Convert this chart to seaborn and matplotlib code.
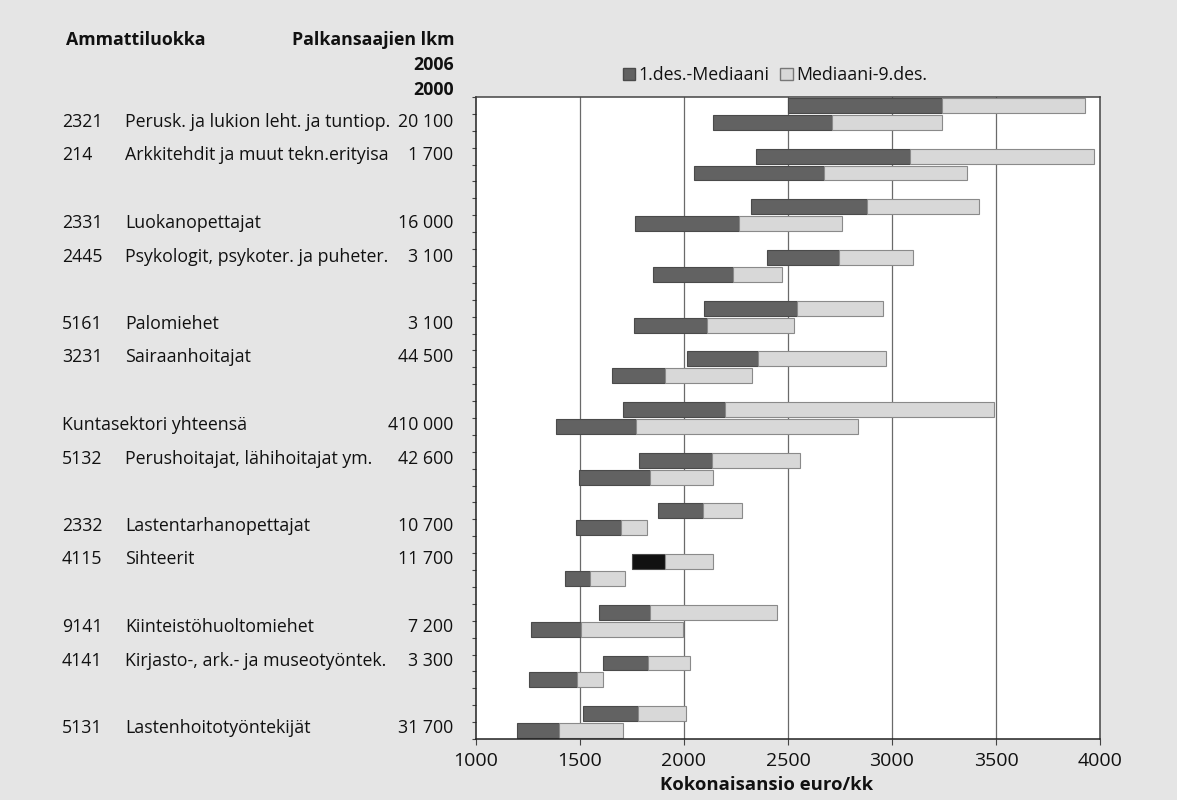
import numpy as np
import pandas as pd
import seaborn as sns
import matplotlib.pyplot as plt
from matplotlib.patches import Patch

# Ammattiluokat (ylhäältä alas)
codes = ["2321", "214", "2331", "2445", "5161", "3231", "", "5132",
         "2332", "4115", "9141", "4141", "5131"]
names = ["Perusk. ja lukion leht. ja tuntiop.", "Arkkitehdit ja muut tekn.erityisa",
         "Luokanopettajat", "Psykologit, psykoter. ja puheter.", "Palomiehet",
         "Sairaanhoitajat", "Kuntasektori yhteensä", "Perushoitajat, lähihoitajat ym.",
         "Lastentarhanopettajat", "Sihteerit", "Kiinteistöhuoltomiehet",
         "Kirjasto-, ark.- ja museotyöntek.", "Lastenhoitotyöntekijät"]
counts = ["20 100", "1 700", "16 000", "3 100", "3 100", "44 500", "410 000",
          "42 600", "10 700", "11 700", "7 200", "3 300", "31 700"]

# 1. desiili, mediaani, 9. desiili (euro/kk)
d1_2006 = [2500, 2345, 2320, 2400, 2095, 2015, 1705, 1785, 1875, 1750, 1590, 1610, 1515]
med_2006 = [3240, 3085, 2880, 2745, 2545, 2355, 2195, 2135, 2090, 1910, 1835, 1825, 1780]
d9_2006 = [3930, 3970, 3420, 3100, 2955, 2970, 3490, 2560, 2280, 2140, 2445, 2030, 2010]
d1_2000 = [2140, 2050, 1765, 1850, 1760, 1655, 1385, 1495, 1480, 1430, 1265, 1255, 1195]
med_2000 = [2710, 2675, 2265, 2235, 2110, 1910, 1770, 1835, 1695, 1550, 1505, 1485, 1400]
d9_2000 = [3240, 3360, 2760, 2470, 2530, 2325, 2835, 2140, 1820, 1715, 1995, 1610, 1705]

years = [2006, 2000]
black_bar = ("4115", 2006)   # tämä palkki on mustana alkuperäisessä

rows = []
for i, c in enumerate(codes):
    rows.append(dict(code=c, year=2006, pos=3 * i, d1=d1_2006[i], med=med_2006[i], d9=d9_2006[i]))
    rows.append(dict(code=c, year=2000, pos=3 * i + 1, d1=d1_2000[i], med=med_2000[i], d9=d9_2000[i]))
df = pd.DataFrame(rows).sort_values("pos").reset_index(drop=True)
df["low"] = df["med"] - df["d1"]
df["high"] = df["d9"] - df["med"]

sns.set_style("white")
plt.rcParams["font.family"] = ["Open Sans", "DejaVu Sans"]
plt.rcParams["text.color"] = "#111111"
plt.rcParams["xtick.color"] = "#111111"
plt.rcParams["axes.labelcolor"] = "#111111"

bg = "#e5e5e5"
dark = "#626262"
light = "#d8d8d8"

W, H = 1177, 800
fig = plt.figure(figsize=(W / 100, H / 100), dpi=100, facecolor=bg)
ax = fig.add_axes([476 / W, 1 - 739 / H, (1100 - 476) / W, (739 - 97) / H])
ax.set_facecolor("white")

for x in [1500, 2000, 2500, 3000, 3500]:
    ax.axvline(x, color="#6a6a6a", lw=0.9, zorder=0)

sns.barplot(data=df, x="low", y="pos", orient="y", native_scale=True,
            left=df["d1"].to_numpy(), width=0.88, color=dark,
            edgecolor="#4a4a4a", linewidth=0.8, errorbar=None, ax=ax, zorder=2)
sns.barplot(data=df, x="high", y="pos", orient="y", native_scale=True,
            left=df["med"].to_numpy(), width=0.88, color=light,
            edgecolor="#8a8a8a", linewidth=0.8, errorbar=None, ax=ax, zorder=2)

k = df.index[(df["code"] == black_bar[0]) & (df["year"] == black_bar[1])][0]
ax.containers[0][k].set_facecolor("#111111")

ax.set_xlim(1000, 4000)
ax.set_ylim(3 * len(codes) - 1.5, -0.5)
ax.set_xticks([1000, 1500, 2000, 2500, 3000, 3500, 4000])
ax.set_yticks(np.arange(-0.5, 3 * len(codes) - 1, 1.0))
ax.set_yticklabels([])
ax.tick_params(axis="y", left=True, length=3, width=0.8, color="#444444")
ax.tick_params(axis="x", bottom=True, length=4, width=0.8, color="#444444",
               labelsize=14, pad=5)
ax.set_ylabel("")
ax.set_xlabel("Kokonaisansio euro/kk", fontsize=13.3, fontweight="bold", labelpad=0)
ax.xaxis.set_label_coords(0.465, -0.058)
for s in ax.spines.values():
    s.set_visible(True)
    s.set_color("#444444")
    s.set_linewidth(1.1)
ax.spines["left"].set_color("#222222")
ax.spines["bottom"].set_color("#222222")

# vasemman puolen taulukko
def fy(py):
    return 1 - py / H

fs = 12.8
fig.text(66 / W, fy(40), "Ammattiluokka", fontsize=fs, fontweight="bold", va="center")
fig.text(454 / W, fy(40), "Palkansaajien lkm", fontsize=fs, fontweight="bold", va="center", ha="right")
fig.text(454 / W, fy(65), str(years[0]), fontsize=fs, fontweight="bold", va="center", ha="right")
fig.text(454 / W, fy(90), str(years[1]), fontsize=fs, fontweight="bold", va="center", ha="right")
for i in range(len(codes)):
    py = 122 + (i // 2) * 101 + (i % 2) * 33.5
    if codes[i]:
        fig.text(62 / W, fy(py), codes[i], fontsize=fs, va="center")
        fig.text(125 / W, fy(py), names[i], fontsize=fs, va="center")
    else:
        fig.text(62 / W, fy(py), names[i], fontsize=fs, va="center")
    fig.text(453 / W, fy(py), counts[i], fontsize=fs, va="center", ha="right")

handles = [Patch(facecolor=dark, edgecolor="#4a4a4a"),
           Patch(facecolor=light, edgecolor="#777777")]
fig.legend(handles, ["1.des.-Mediaani", "Mediaani-9.des."], loc="center",
           bbox_to_anchor=(775 / W, fy(75)), ncol=2, frameon=False, fontsize=12.8,
           handlelength=0.7, handleheight=0.7, handletextpad=0.2, columnspacing=0.6)

fig.savefig("out.png", dpi=100, facecolor=bg)
